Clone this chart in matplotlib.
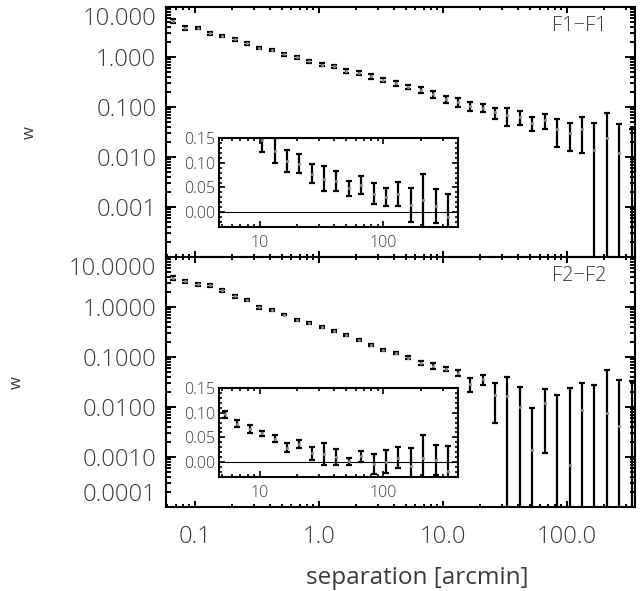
import numpy as np
import matplotlib
matplotlib.use("Agg")
import matplotlib.pyplot as plt
from matplotlib.ticker import FixedLocator, LogLocator, MultipleLocator, FormatStrFormatter, NullFormatter

# separation bins [arcmin]
sep = [0.066, 0.083, 0.105, 0.132, 0.166, 0.209, 0.263, 0.331, 0.417, 0.525,
       0.661, 0.832, 1.05, 1.32, 1.66, 2.09, 2.63, 3.31, 4.17, 5.25,
       6.61, 8.32, 10.5, 13.2, 16.6, 20.9, 26.3, 33.1, 41.7, 52.5,
       66.1, 83.2, 105, 132, 166, 209, 263, 331]

# F1-F1 correlation and errors
w11 = [5.25, 3.86, 3.86, 2.97, 2.67, 2.26, 1.88, 1.54, 1.40, 1.13,
       0.985, 0.82, 0.71, 0.65, 0.525, 0.48, 0.41, 0.352, 0.297, 0.255,
       0.219, 0.182, 0.145, 0.124, 0.104, 0.098, 0.078, 0.068, 0.063, 0.048,
       0.055, 0.037, 0.031, 0.037, 0.014, 0.024, 0.012, -0.010]
e11 = [0.42, 0.3, 0.2, 0.22, 0.12, 0.17, 0.14, 0.07, 0.06, 0.09,
       0.08, 0.06, 0.05, 0.04, 0.045, 0.04, 0.045, 0.035, 0.03, 0.025,
       0.03, 0.029, 0.024, 0.025, 0.022, 0.019, 0.02, 0.026, 0.02, 0.015,
       0.018, 0.021, 0.018, 0.025, 0.034, 0.053, 0.034, 0.047]

# F2-F2 correlation and errors
w22 = [3.86, 3.31, 2.88, 2.71, 2.15, 1.63, 1.40, 0.985, 0.857, 0.71,
       0.558, 0.479, 0.398, 0.331, 0.28, 0.222, 0.177, 0.140, 0.120, 0.097,
       0.0776, 0.0667, 0.0585, 0.0476, 0.029, 0.036, 0.0177, 0.0163, 0.0102, 0.0014,
       0.0122, -0.0034, 0.0007, 0.0088, -0.0068, 0.0075, 0.0041, -0.018]
e22 = [0.3, 0.25, 0.22, 0.18, 0.14, 0.12, 0.06, 0.07, 0.04, 0.03,
       0.025, 0.02, 0.02, 0.015, 0.013, 0.01, 0.008, 0.007, 0.006, 0.007,
       0.007, 0.008, 0.0055, 0.0065, 0.009, 0.008, 0.013, 0.023, 0.0156, 0.008,
       0.011, 0.0207, 0.023, 0.021, 0.0347, 0.048, 0.031, 0.051]

xticks = [0.1, 1.0, 10.0, 100.0]
xticklabels = ["0.1", "1.0", "10.0", "100.0"]
inset_start = 19

plt.rcParams['font.family'] = ['Open Sans', 'DejaVu Sans']
plt.rcParams['font.weight'] = 'light'
txtcol = '#3a3a3a'

fig = plt.figure(figsize=(6.41, 5.91), dpi=100)

def errs(ax, x, y, e, cap=2.4):
    ax.errorbar(x, y, yerr=e, fmt='.', ms=2.5, mfc='#888888', mec='#888888',
                ecolor='k', elinewidth=1.6, capsize=cap, capthick=1.6)

def style_main(ax, fmt, yticks):
    ax.set_xscale('log')
    ax.set_yscale('log', nonpositive='clip')
    ax.set_xlim(0.0585, 353)
    ax.set_ylim(1e-4, 10)
    ax.xaxis.set_major_locator(FixedLocator(xticks))
    ax.xaxis.set_minor_locator(LogLocator(subs=np.arange(2, 10)))
    ax.yaxis.set_major_locator(FixedLocator(yticks))
    ax.yaxis.set_minor_locator(LogLocator(subs=np.arange(2, 10)))
    ax.yaxis.set_major_formatter(FormatStrFormatter(fmt))
    ax.yaxis.set_minor_formatter(NullFormatter())
    ax.tick_params(which='both', direction='in', top=True, right=True, width=1.4)
    ax.tick_params(axis='y', which='major', length=7.5, labelsize=17, pad=7, labelcolor=txtcol)
    ax.tick_params(axis='y', which='minor', length=3.8)
    ax.tick_params(axis='x', which='major', length=4.5, labelsize=17, pad=13, labelcolor=txtcol)
    ax.tick_params(axis='x', which='minor', length=2.4)
    for s in ax.spines.values():
        s.set_linewidth(1.5)
    ax.set_ylabel('w', fontsize=12, color=txtcol, labelpad=32)

def style_inset(ax):
    ax.set_xscale('log')
    ax.set_xlim(4.7, 400)
    ax.set_ylim(-0.03, 0.15)
    ax.xaxis.set_major_locator(FixedLocator([10, 100]))
    ax.xaxis.set_major_formatter(FormatStrFormatter('%d'))
    ax.xaxis.set_minor_locator(LogLocator(subs=np.arange(2, 10)))
    ax.xaxis.set_minor_formatter(NullFormatter())
    ax.yaxis.set_major_locator(FixedLocator([0.0, 0.05, 0.10, 0.15]))
    ax.yaxis.set_major_formatter(FormatStrFormatter('%.2f'))
    ax.yaxis.set_minor_locator(MultipleLocator(0.01))
    ax.tick_params(which='both', direction='in', top=True, right=True, width=1.2,
                   labelsize=11.5, labelcolor=txtcol)
    ax.tick_params(which='major', length=4, pad=3)
    ax.tick_params(which='minor', length=2)
    ax.tick_params(axis='x', pad=6)
    for s in ax.spines.values():
        s.set_linewidth(1.5)
    ax.axhline(0, color='k', lw=0.8)

ax1 = fig.add_axes([0.259, 0.565, 0.7316, 0.423])
ax2 = fig.add_axes([0.259, 0.142, 0.7316, 0.423])

errs(ax1, sep, w11, e11)
style_main(ax1, '%.3f', [10, 1, 0.1, 0.01, 0.001])
ax1.tick_params(axis='x', labelbottom=False)
ax1.text(0.94, 0.965, 'F1\u2212F1', transform=ax1.transAxes, ha='right', va='top',
         fontsize=14.5, color=txtcol)

errs(ax2, sep, w22, e22)
style_main(ax2, '%.4f', [10, 1, 0.1, 0.01, 0.001, 0.0001])
ax2.set_xticklabels(xticklabels)
ax2.set_xlabel('separation [arcmin]', fontsize=17.5, color=txtcol, va='center')
ax2.xaxis.set_label_coords(0.535, -0.284)
ax2.text(0.94, 0.965, 'F2\u2212F2', transform=ax2.transAxes, ha='right', va='top',
         fontsize=14.5, color=txtcol)

# keep the end labels inside the panel range
ax1.get_yticklabels()[0].set_va('top')
ax2.get_yticklabels()[0].set_va('top')
ax2.get_yticklabels()[-1].set_va('bottom')

in1 = fig.add_axes([0.3417, 0.6159, 0.3729, 0.1506])
errs(in1, sep[inset_start:], w11[inset_start:], e11[inset_start:], cap=2.2)
style_inset(in1)

in2 = fig.add_axes([0.3417, 0.1929, 0.3729, 0.1506])
errs(in2, sep[inset_start:], w22[inset_start:], e22[inset_start:], cap=2.2)
style_inset(in2)

fig.savefig('out.png', dpi=100)
